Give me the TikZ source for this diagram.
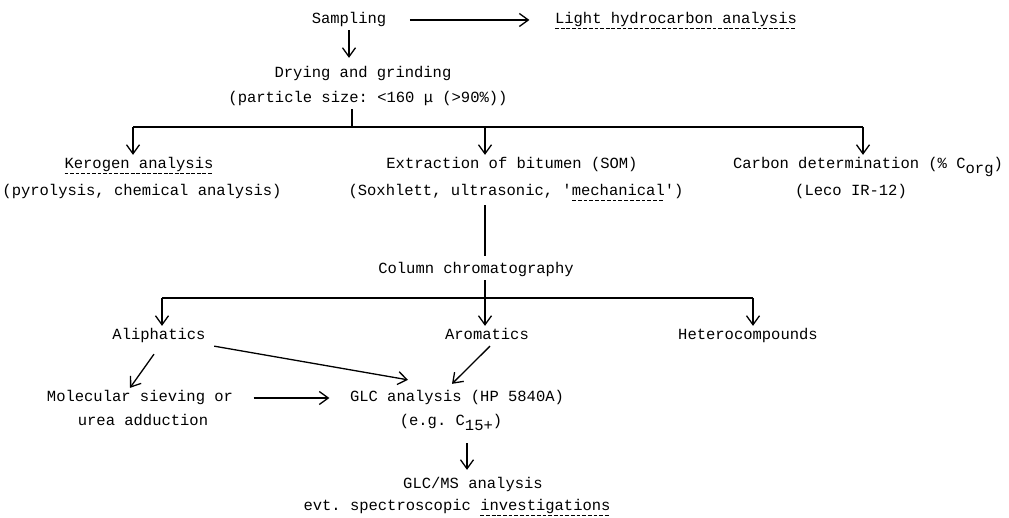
\documentclass[tikz,border=0pt]{standalone}
\usepackage{fontspec}
\setmonofont{Liberation Mono}
\usetikzlibrary{arrows.meta}

\newsavebox\ulbox
\newcommand\dashul[1]{\sbox\ulbox{#1}\rlap{\raisebox{-5.5pt}{\hbox to \wd\ulbox{\xleaders\hbox to 5.5pt{\vrule height 1.1pt width 3.8pt\hfil}\hfill}}}\usebox\ulbox}

\begin{document}
\begin{tikzpicture}[x=1pt,y=-1pt,line width=1.3pt]
  \tikzstyle{every node}=[font=\ttfamily\fontsize{15.5}{18}\selectfont,inner sep=2pt,text height=11pt,text depth=4pt]
  \tikzstyle{flow}=[-{Straight Barb[length=9pt,width=13pt]}]
  \useasboundingbox (0,0) rectangle (1009,518);

  \node (samp) at (349,20) {Sampling};
  \node (light) at (676,20) {\dashul{Light hydrocarbon analysis}};
  \node (dry) at (363,74) {Drying and grinding};
  \node (part) at (368,99) {(particle size: <160 μ (>90\%))};

  \node (kerogen) at (139,165) {\dashul{Kerogen analysis}};
  \node (pyro) at (142,192) {(pyrolysis, chemical analysis)};
  \node (extr) at (512,165) {Extraction of bitumen (SOM)};
  \node (soxh) at (516,192) {(Soxhlett, ultrasonic, '\dashul{mechanical}')};
  \node (carbon) at (868,165) {Carbon determination (\% C\raisebox{-5pt}{org})};
  \node (leco) at (851,192) {(Leco IR-12)};

  \node (column) at (476,270) {Column chromatography};
  \node (aliph) at (159,336) {Aliphatics};
  \node (arom) at (487,336) {Aromatics};
  \node (hetero) at (748,336) {Heterocompounds};

  \node (molec) at (140,398) {Molecular sieving or};
  \node (urea) at (143,422) {urea adduction};
  \node (glc) at (457,398) {GLC analysis (HP 5840A)};
  \node (eg) at (451,422) {(e.g. C\raisebox{-5pt}{15+})};
  \node (glcms) at (473,485) {GLC/MS analysis};
  \node (evt) at (457,507) {evt. spectroscopic \dashul{investigations}};

  % branching points
  \coordinate (split) at (352,127);
  \coordinate (kin) at (133,127);
  \coordinate (ein) at (485,127);
  \coordinate (cin) at (863,127);
  \coordinate (alin) at (162,298);
  \coordinate (hein) at (753,298);

  \draw[flow,shorten <=21pt,shorten >=23pt] (samp.east) -- (light.west);
  \draw[flow,shorten >=6pt] (samp.south) -- (samp.south |- dry.north);
  \draw (part.south -| split) -- (split);
  \draw (kin) -- (cin);
  \draw[flow] (kin) -- (kin |- kerogen.north);
  \draw[flow] (ein) -- (ein |- extr.north);
  \draw[flow] (cin) -- (cin |- carbon.north);

  \draw[shorten <=3pt,shorten >=4pt] (soxh.south -| ein) -- (column.north -| ein);
  \draw[flow] (column.south -| ein) -- (arom.north -| ein);
  \draw (alin) -- (hein);
  \draw[flow] (alin) -- (alin |- aliph.north);
  \draw[flow] (hein) -- (hein |- hetero.north);

  \draw[flow] ([xshift=6pt]aliph.south east) -- ([shift={(-49pt,8pt)}]glc.north);
  \draw[flow] ([xshift=3pt]arom.south) -- ([shift={(-5pt,4pt)}]glc.north);
  \draw[flow] ([shift={(-5pt,-8pt)}]aliph.south) -- ([xshift=-10pt]molec.north);
  \draw[flow,shorten <=18pt,shorten >=18pt] (molec.east) -- (glc.west);
  \draw[flow,shorten <=11pt,shorten >=5pt] ([xshift=16pt]eg.south) -- ([xshift=-6pt]glcms.north);
\end{tikzpicture}
\end{document}
